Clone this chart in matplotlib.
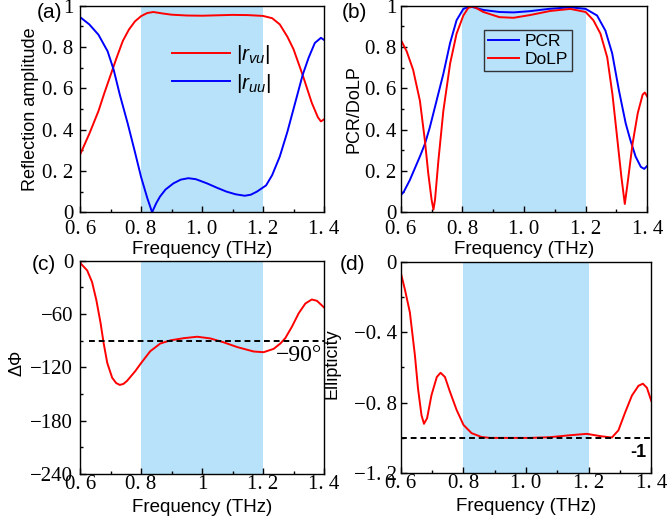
import matplotlib
matplotlib.use("Agg")
import matplotlib.pyplot as plt
from matplotlib.ticker import MultipleLocator

plt.rcParams['font.family'] = ['Liberation Sans', 'DejaVu Sans']
plt.rcParams['mathtext.fontset'] = 'custom'
plt.rcParams['mathtext.rm'] = 'Liberation Sans'
plt.rcParams['mathtext.it'] = 'Liberation Sans:italic'

# ---- data ----
# (a) reflection amplitudes
f_rvu = [0.60, 0.63, 0.66, 0.68, 0.70, 0.72, 0.74, 0.76, 0.78, 0.80, 0.82, 0.84,
         0.87, 0.90, 0.95, 1.00, 1.05, 1.10, 1.15, 1.20, 1.23, 1.255, 1.28, 1.30,
         1.33, 1.36, 1.38, 1.39, 1.40]
r_vu = [0.28, 0.38, 0.49, 0.58, 0.665, 0.75, 0.83, 0.885, 0.925, 0.95, 0.965, 0.97,
        0.963, 0.957, 0.953, 0.952, 0.954, 0.956, 0.955, 0.951, 0.94, 0.91, 0.85, 0.79,
        0.665, 0.53, 0.46, 0.44, 0.45]
f_ruu = [0.60, 0.63, 0.66, 0.69, 0.71, 0.73, 0.756, 0.78, 0.80, 0.82, 0.836, 0.85,
         0.862, 0.88, 0.906, 0.93, 0.955, 0.98, 1.016, 1.05, 1.08, 1.11, 1.14, 1.16,
         1.18, 1.21, 1.23, 1.255, 1.28, 1.30, 1.33, 1.35, 1.37, 1.39, 1.40]
r_uu = [0.945, 0.91, 0.86, 0.78, 0.69, 0.57, 0.43, 0.29, 0.17, 0.07, 0.0, 0.045,
        0.076, 0.11, 0.14, 0.158, 0.165, 0.16, 0.14, 0.118, 0.10, 0.087, 0.08, 0.085,
        0.10, 0.13, 0.18, 0.27, 0.39, 0.50, 0.665, 0.75, 0.82, 0.845, 0.835]

# (b) PCR and DoLP
f_pcr = [0.60, 0.61, 0.629, 0.662, 0.678, 0.694, 0.716, 0.738, 0.76, 0.781, 0.803, 0.825,
         0.868, 0.92, 0.966, 1.019, 1.08, 1.15, 1.20, 1.237, 1.264, 1.286, 1.308,
         1.33, 1.345, 1.362, 1.379, 1.39, 1.40]
pcr = [0.082, 0.10, 0.155, 0.27, 0.33, 0.41, 0.54, 0.67, 0.82, 0.93, 0.985, 0.997,
       0.98, 0.97, 0.968, 0.974, 0.985, 0.993, 0.985, 0.953, 0.88, 0.77, 0.59,
       0.43, 0.35, 0.27, 0.22, 0.21, 0.225]
f_dolp = [0.60, 0.619, 0.64, 0.662, 0.678, 0.689, 0.70, 0.706, 0.711, 0.722, 0.738,
          0.76, 0.781, 0.803, 0.819, 0.835, 0.868, 0.92, 0.966, 1.019, 1.085, 1.15,
          1.20, 1.225, 1.248, 1.27, 1.287, 1.303, 1.316, 1.327, 1.336, 1.352, 1.369,
          1.385, 1.392, 1.40]
dolp = [0.835, 0.78, 0.69, 0.54, 0.35, 0.19, 0.06, 0.013, 0.06, 0.25, 0.49,
        0.72, 0.865, 0.953, 0.99, 0.997, 0.97, 0.945, 0.942, 0.955, 0.975, 0.985,
        0.97, 0.93, 0.865, 0.75, 0.57, 0.35, 0.17, 0.04, 0.14, 0.33, 0.48,
        0.57, 0.58, 0.56]

# (c) phase difference
f_phase = [0.60, 0.603, 0.623, 0.639, 0.653, 0.667, 0.677, 0.689, 0.705, 0.718, 0.73,
           0.742, 0.754, 0.781, 0.80, 0.83, 0.863, 0.896, 0.94, 0.984, 1.027, 1.071,
           1.115, 1.169, 1.202, 1.235, 1.257, 1.273, 1.295, 1.317, 1.339, 1.36,
           1.377, 1.40]
phase = [-1.5, -3.4, -10.8, -23.8, -44, -70, -92.5, -115, -131.5, -137.5, -139.6,
         -138.5, -135, -124, -115, -101.7, -93, -89.5, -87, -85.4, -87.3, -91.7,
         -97, -102, -102.8, -99, -93, -87, -74, -59, -48, -43.5,
         -45, -52.4]

# (d) ellipticity
f_ell = [0.60, 0.613, 0.629, 0.645, 0.655, 0.666, 0.674, 0.684, 0.698, 0.715, 0.727,
         0.741, 0.757, 0.778, 0.80, 0.826, 0.858, 0.885, 0.95, 1.013, 1.077, 1.14,
         1.194, 1.237, 1.274, 1.295, 1.317, 1.338, 1.359, 1.373, 1.386, 1.40]
ell = [-0.062, -0.156, -0.287, -0.53, -0.72, -0.87, -0.92, -0.888, -0.757, -0.654, -0.63,
       -0.654, -0.738, -0.84, -0.926, -0.973, -0.995, -1.0, -1.0, -1.0, -0.996, -0.985,
       -0.977, -0.99, -0.998, -0.957, -0.853, -0.76, -0.704, -0.692, -0.715, -0.79]

band = (0.8, 1.2)
xticks = [0.6, 0.8, 1.0, 1.2, 1.4]
xlabels = ['0. 6', '0. 8', '1. 0', '1. 2', '1. 4']
xlabels_c = ['0. 6', '0. 8', '1', '1. 2', '1. 4']
yticks_ab = [0, 0.2, 0.4, 0.6, 0.8, 1.0]
ylabels_ab = ['0', '0. 2', '0. 4', '0. 6', '0. 8', '1']
yticks_c = [-240, -180, -120, -60, 0]
ylabels_c = ['\u2212240', '\u2212180', '\u2212120', '\u221260', '0']
yticks_d = [-1.2, -0.8, -0.4, 0]
ylabels_d = ['\u22121. 2', '\u22120. 8', '\u22120. 4', '0']

shade = '#b8e2fa'
tickfont = 'Liberation Serif'
tfs = 15

fig = plt.figure(figsize=(6.68, 5.28), dpi=100)
ax_a = fig.add_axes([0.120, 0.598, 0.365, 0.391])
ax_b = fig.add_axes([0.600, 0.598, 0.369, 0.391])
ax_c = fig.add_axes([0.120, 0.102, 0.365, 0.404])
ax_d = fig.add_axes([0.600, 0.104, 0.375, 0.400])


def style(ax, yt, yl, xl, ymin, ymax, yminor, ypad, xpad, lpad):
    ax.axvspan(band[0], band[1], color=shade, lw=0, zorder=0)
    ax.set_xlim(0.6, 1.4)
    ax.set_ylim(ymin, ymax)
    ax.set_xticks(xticks)
    ax.set_xticklabels(xl, fontfamily=tickfont, fontsize=tfs)
    ax.set_yticks(yt)
    ax.set_yticklabels(yl, fontfamily=tickfont, fontsize=tfs)
    ax.xaxis.set_minor_locator(MultipleLocator(0.1))
    ax.yaxis.set_minor_locator(MultipleLocator(yminor))
    ax.tick_params(which='both', direction='in', top=False, right=False, width=1)
    ax.tick_params(which='major', length=4)
    ax.tick_params(which='minor', length=2.5)
    ax.tick_params(axis='x', which='major', pad=xpad)
    ax.tick_params(axis='y', which='major', pad=ypad)
    for s in ax.spines.values():
        s.set_linewidth(1.0)
    ax.set_xlabel('Frequency (THz)', fontsize=13.5, labelpad=lpad)


# (a)
style(ax_a, yticks_ab, ylabels_ab, xlabels, 0, 1, 0.1, 5, 5.5, 1.5)
ax_a.plot(f_rvu, r_vu, color='#ff0000', lw=1.4, label=r'$|r_{vu}|$')
ax_a.plot(f_ruu, r_uu, color='#0000ff', lw=1.4, label=r'$|r_{uu}|$')
ax_a.set_ylabel('Reflection amplitude', fontsize=13)
ax_a.yaxis.set_label_coords(-0.167, 0.5)
ax_a.legend(loc='upper left', bbox_to_anchor=(0.375, 0.818), frameon=False,
            fontsize=15, handlelength=2.8, labelspacing=0.25, handletextpad=0.3,
            borderaxespad=0, borderpad=0)

# (b)
style(ax_b, yticks_ab, ylabels_ab, xlabels, 0, 1, 0.1, 3, 5.5, 1.5)
ax_b.plot(f_pcr, pcr, color='#0000ff', lw=1.4, label='PCR')
ax_b.plot(f_dolp, dolp, color='#ff0000', lw=1.4, label='DoLP')
ax_b.set_ylabel('PCR/DoLP', fontsize=13)
ax_b.yaxis.set_label_coords(-0.157, 0.5)
leg = ax_b.legend(loc='upper left', bbox_to_anchor=(0.337, 0.885), fontsize=12.5,
                  handlelength=1.8, labelspacing=0.15, handletextpad=0.3,
                  borderaxespad=0, borderpad=0.25, fancybox=False,
                  edgecolor='#333333', facecolor='none', framealpha=1)
leg.get_frame().set_linewidth(1.0)

# (c)
style(ax_c, yticks_c, ylabels_c, xlabels_c, -240, 0, 30, 5, 0.5, 4)
ax_c.plot(f_phase, phase, color='#ff0000', lw=1.4)
ax_c.plot([0.628, 1.4], [-90, -90], color='black', ls=(0, (3, 2)), lw=1.4)
ax_c.text(1.395, -107, '\u221290\u00b0', fontfamily=tickfont, fontsize=17,
          ha='right', va='center')
ax_c.set_ylabel('\u0394\u03a6', fontsize=13)
ax_c.yaxis.set_label_coords(-0.225, 0.52)

# (d)
style(ax_d, yticks_d, ylabels_d, xlabels, -1.2, 0, 0.2, 3, 0.5, 4)
ax_d.plot(f_ell, ell, color='#ff0000', lw=1.4)
ax_d.plot([0.6, 1.4], [-1, -1], color='black', ls=(0, (3, 2)), lw=1.4)
ax_d.text(1.385, -1.085, '-1', fontsize=13, fontweight='bold',
          ha='right', va='center')
ax_d.set_ylabel('Ellipticity', fontsize=13)
ax_d.yaxis.set_label_coords(-0.24, 0.52)

# panel letters
fig.text(49 / 668, 1 - 13 / 528, '(a)', fontsize=15, ha='center', va='center')
fig.text(354 / 668, 1 - 13 / 528, '(b)', fontsize=15, ha='center', va='center')
fig.text(44 / 668, 1 - 264 / 528, '(c)', fontsize=15, ha='center', va='center')
fig.text(352 / 668, 1 - 264 / 528, '(d)', fontsize=15, ha='center', va='center')

fig.savefig('out.png', dpi=100)
